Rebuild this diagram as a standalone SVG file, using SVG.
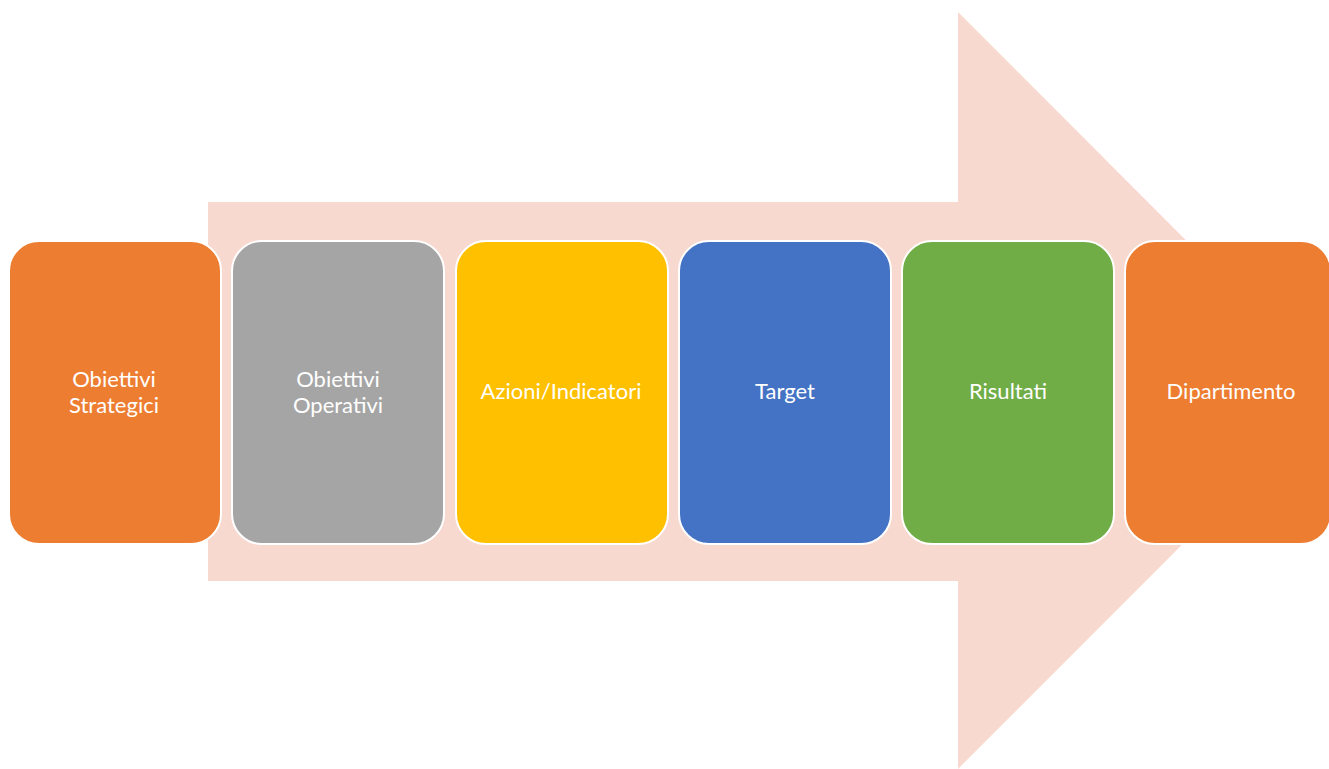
<svg xmlns="http://www.w3.org/2000/svg" width="1329" height="769" viewBox="0 0 1329 769">
<style>
.box{stroke:#fff;stroke-width:2}
.t{font-family:Lato,"Open Sans","Liberation Sans",sans-serif;font-size:22px;fill:#fff;text-anchor:middle}
</style>
<rect width="1329" height="769" fill="#fff"/>
<g id="arrow">
<polygon points="208,202 958,202 958,12 1336,390.5 958,769 958,581 208,581" fill="#F8D9CF"/>
</g>
<g id="n1"><rect class="box" x="9" y="241" width="212" height="303" rx="30" fill="#ED7D31"/>
<text class="t" x="114" y="387">Obiettivi</text><text class="t" x="114" y="413">Strategici</text></g>
<g id="n2"><rect class="box" x="232" y="241" width="212" height="303" rx="30" fill="#A5A5A5"/>
<text class="t" x="338" y="387">Obiettivi</text><text class="t" x="338" y="413">Operativi</text></g>
<g id="n3"><rect class="box" x="456" y="241" width="212" height="303" rx="30" fill="#FFC000"/>
<text class="t" x="561" y="399">Azioni/Indicatori</text></g>
<g id="n4"><rect class="box" x="679" y="241" width="212" height="303" rx="30" fill="#4472C4"/>
<text class="t" x="785" y="399">Target</text></g>
<g id="n5"><rect class="box" x="902" y="241" width="212" height="303" rx="30" fill="#70AD47"/>
<text class="t" x="1008" y="399">Risultati</text></g>
<g id="n6"><rect class="box" x="1125" y="241" width="206" height="303" rx="30" fill="#ED7D31"/>
<text class="t" x="1231" y="399">Dipartimento</text></g>
<g id="connectors"></g>
</svg>
